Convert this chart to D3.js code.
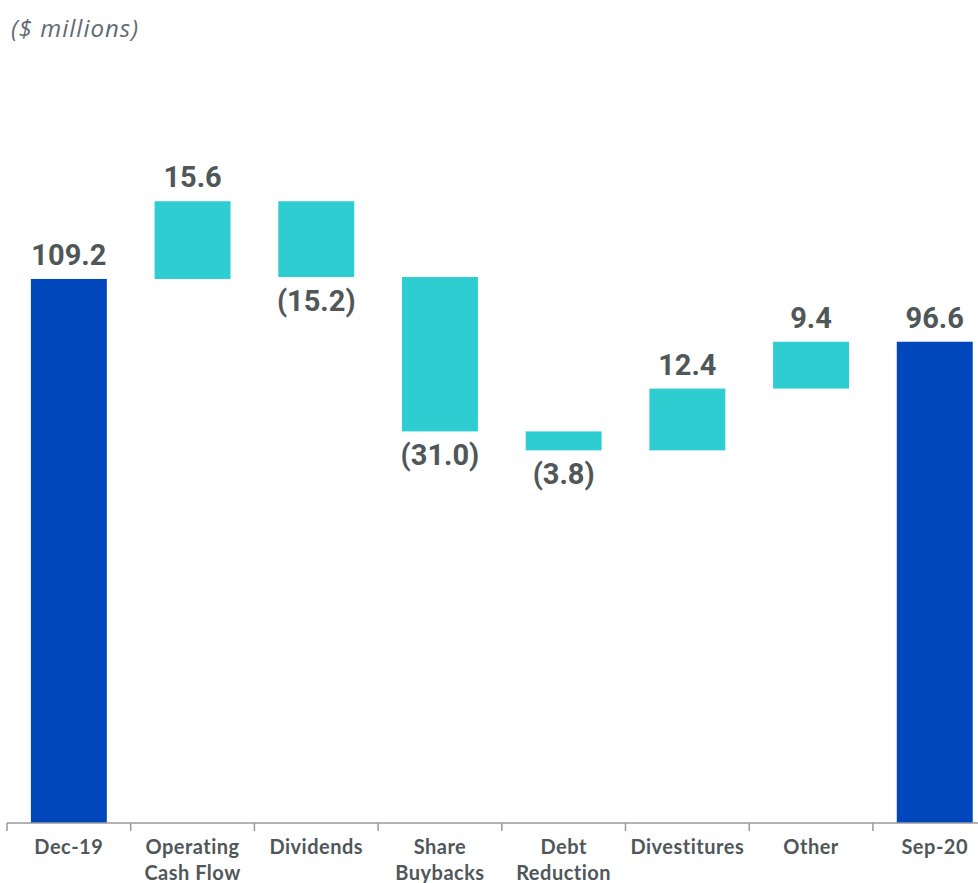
<!DOCTYPE html>
<html>
<head>
<meta charset="utf-8">
<script src="https://cdn.jsdelivr.net/npm/d3@7"></script>
<style>
  html, body { margin: 0; padding: 0; background: #fff; }
  svg { display: block; }
</style>
</head>
<body>
<svg id="chart" width="978" height="883"></svg>
<script>
// Cash bridge, Dec-19 to Sep-20 ($ millions)
const categories = ["Dec-19", "Operating\nCash Flow", "Dividends", "Share\nBuybacks", "Debt\nReduction", "Divestitures", "Other", "Sep-20"];
const values = [109.2, 15.6, -15.2, -31.0, -3.8, 12.4, 9.4, 96.6];
const isTotal = [true, false, false, false, false, false, false, true];
const valueLabels = ["109.2", "15.6", "(15.2)", "(31.0)", "(3.8)", "12.4", "9.4", "96.6"];

const svg = d3.select("#chart");
const baseY = 823;

const x = d3.scaleBand()
  .domain(categories)
  .range([7, 996.6])
  .paddingInner(0.386)
  .paddingOuter(0.193);

const y = d3.scaleLinear()
  .domain([0, 140])
  .range([baseY, baseY - 140 * 4.982]);

// running totals for waterfall segments
let running = 0;
const bars = categories.map((c, i) => {
  let start, end;
  if (isTotal[i]) { start = 0; end = values[i]; running = values[i]; }
  else { start = running; end = running + values[i]; running = end; }
  return { cat: c, start, end, value: values[i], total: isTotal[i], label: valueLabels[i] };
});

svg.append("text")
  .attr("x", 11).attr("y", 37)
  .attr("font-family", "'Open Sans', 'DejaVu Sans', sans-serif")
  .attr("font-style", "italic")
  .attr("font-size", 24)
  .attr("letter-spacing", 1)
  .attr("fill", "#5f6b73")
  .text("($ millions)");

svg.append("g").selectAll("rect")
  .data(bars)
  .join("rect")
  .attr("x", d => x(d.cat))
  .attr("width", x.bandwidth())
  .attr("y", d => y(Math.max(d.start, d.end)))
  .attr("height", d => Math.abs(y(d.start) - y(d.end)))
  .attr("fill", d => d.total ? "#0047bb" : "#2ecdd2");

// value labels: above rising bars, below falling bars
svg.append("g").selectAll("text")
  .data(bars)
  .join("text")
  .attr("x", d => x(d.cat) + x.bandwidth() / 2)
  .attr("y", d => d.value >= 0 ? y(Math.max(d.start, d.end)) - 14 : y(Math.min(d.start, d.end)) + 34)
  .attr("text-anchor", "middle")
  .attr("font-family", "Roboto, 'Liberation Sans', sans-serif")
  .attr("font-weight", "bold")
  .attr("font-size", 29)
  .attr("fill", "#4f5759")
  .text(d => d.label);

// category axis with ticks between bands
const axis = svg.append("g");
axis.append("line")
  .attr("x1", 7).attr("x2", 978)
  .attr("y1", baseY).attr("y2", baseY)
  .attr("stroke", "#9a9a9a").attr("stroke-width", 1.5);

const gap = x.step() - x.bandwidth();
const bounds = categories.map(c => x(c) - gap / 2);
axis.selectAll("line.tick")
  .data(bounds)
  .join("line")
  .attr("class", "tick")
  .attr("x1", d => d).attr("x2", d => d)
  .attr("y1", baseY).attr("y2", baseY + 8)
  .attr("stroke", "#9a9a9a").attr("stroke-width", 1.5);

const catText = axis.selectAll("text.cat")
  .data(categories)
  .join("text")
  .attr("class", "cat")
  .attr("x", d => x(d) + x.bandwidth() / 2)
  .attr("y", 854)
  .attr("text-anchor", "middle")
  .attr("font-family", "Lato, 'DejaVu Sans', sans-serif")
  .attr("font-weight", "bold")
  .attr("font-size", 20)
  .attr("letter-spacing", 0.5)
  .attr("fill", "#4f5759");

catText.each(function(d) {
  const lines = d.split("\n");
  d3.select(this).selectAll("tspan")
    .data(lines)
    .join("tspan")
    .attr("x", x(d) + x.bandwidth() / 2)
    .attr("dy", (l, i) => i === 0 ? 0 : 26)
    .text(l => l);
});
</script>
</body>
</html>
